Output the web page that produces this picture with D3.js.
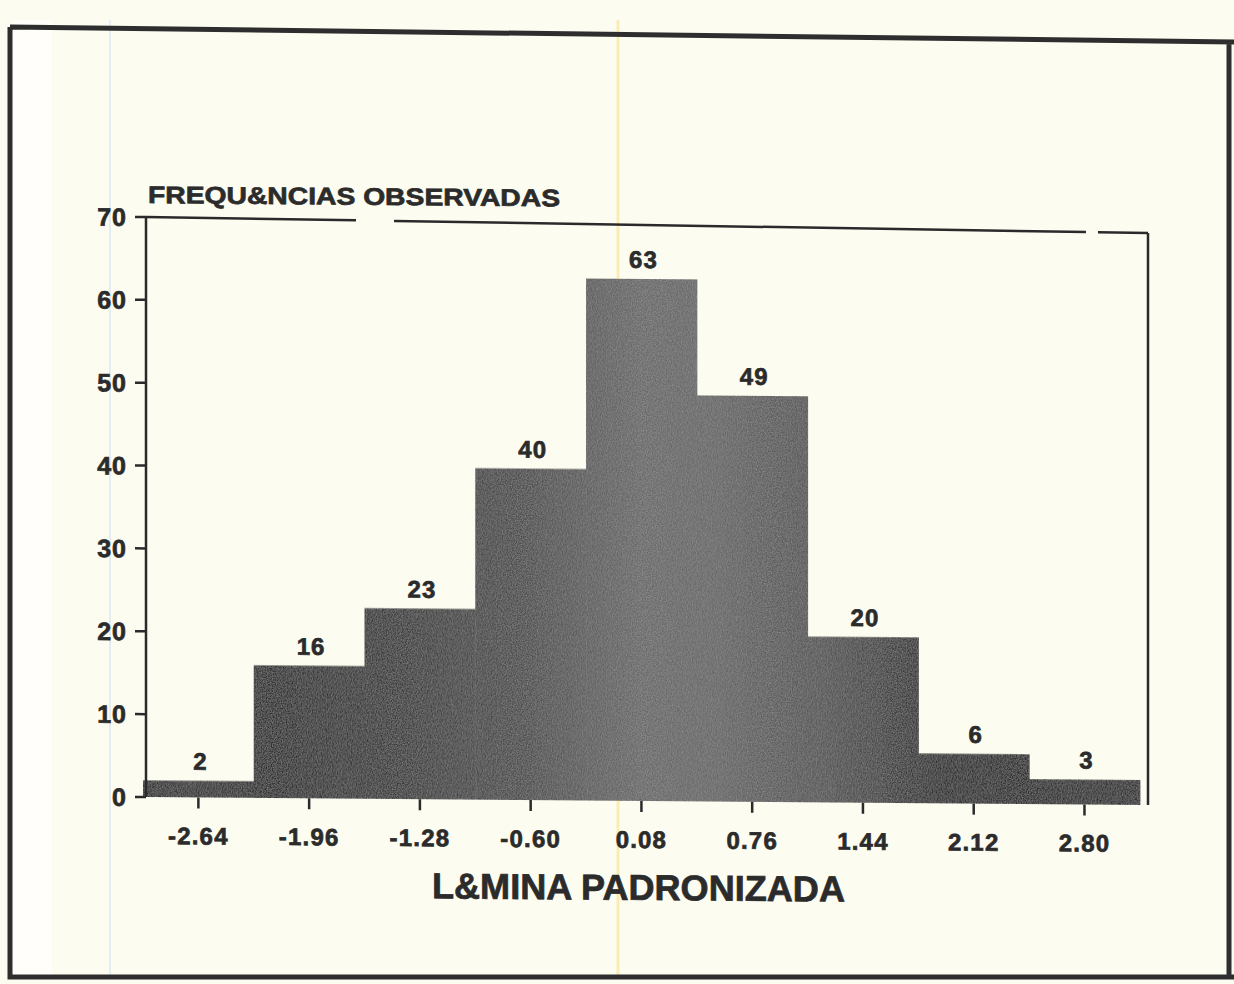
<!DOCTYPE html>
<html>
<head>
  <meta charset="UTF-8">
  <style>
    body {
      margin: 0;
      padding: 0;
      background-color: #fdfcf1;
    }
    svg {
      display: block;
      background-color: #fdfcf1;
    }
    text {
      font-family: "Liberation Sans", Arial, sans-serif;
      font-weight: bold;
      fill: #2b2b2b;
      stroke: #2b2b2b;
      stroke-width: 0.7px;
    }
  </style>
</head>
<body>
  <svg></svg>
  <script src="https://d3js.org/d3.v7.min.js"></script>

  <script>
  // bin centres (standardised lamina), observed frequencies
  const binCenters = [-2.64, -1.96, -1.28, -0.60, 0.08, 0.76, 1.44, 2.12, 2.80];
  const frequencies = [2, 16, 23, 40, 63, 49, 20, 6, 3];
  const xTickLabels = ["-2.64", "-1.96", "-1.28", "-0.60", "0.08", "0.76", "1.44", "2.12", "2.80"];
  const yTicks = [0, 10, 20, 30, 40, 50, 60, 70];
  const binWidth = 0.68;

  let width = 1234, height = 984;

  let svg = d3.select("svg")
      .attr("width", width)
      .attr("height", height);

  // scan artefacts: paler strip at left, faint coloured lines
  svg.append("rect")
      .attr("x", 12).attr("y", 20).attr("width", 40).attr("height", 955)
      .attr("fill", "#ffffff").attr("opacity", 0.7);
  svg.append("line")
      .attr("x1", 110).attr("x2", 110).attr("y1", 20).attr("y2", 975)
      .attr("stroke", "#e3edf2").attr("stroke-width", 2);
  svg.append("line")
      .attr("x1", 618).attr("x2", 618).attr("y1", 20).attr("y2", 975)
      .attr("stroke", "#fbecb4").attr("stroke-width", 3);

  // outer frame (the page is slightly tilted)
  svg.append("path")
      .attr("d", "M10,27 L1234,42 M10,27 L10,977 L1234,977 M1229,42 L1229,977")
      .attr("fill", "none")
      .attr("stroke", "#2e2e2e")
      .attr("stroke-width", 5);

  const k = 0.008;  // small skew of the scanned plot
  const g = svg.append("g")
      .attr("transform", `translate(0, ${-146 * k}) skewY(${Math.atan(k) * 180 / Math.PI})`);

  const x = d3.scaleLinear().domain([-2.98, 3.19]).range([143, 1148]);
  const y = d3.scaleLinear().domain([0, 70]).range([797, 217]);

  const defs = svg.append("defs");
  const grad = defs.append("linearGradient")
      .attr("id", "barGrad")
      .attr("gradientUnits", "userSpaceOnUse")
      .attr("x1", x(-2.98)).attr("x2", x(3.14))
      .attr("y1", 0).attr("y2", 0);
  [[0, "#343434"], [0.15, "#333"], [0.25, "#3c3c3c"], [0.38, "#4e4e4e"], [0.5, "#6a6a6a"],
   [0.58, "#666"], [0.68, "#555"], [0.74, "#454545"], [0.8, "#2e2e2e"], [1, "#303030"]]
    .forEach(s => grad.append("stop").attr("offset", s[0]).attr("stop-color", s[1]));

  const noise = defs.append("filter").attr("id", "grain");
  noise.append("feTurbulence")
      .attr("type", "fractalNoise").attr("baseFrequency", 0.8).attr("numOctaves", 2).attr("result", "n");
  noise.append("feColorMatrix")
      .attr("in", "n").attr("type", "matrix")
      .attr("values", "0 0 0 0 0.6  0 0 0 0 0.6  0 0 0 0 0.6  0 0 0 0.5 -0.15")
      .attr("result", "ng");
  noise.append("feComposite").attr("in", "ng").attr("in2", "SourceGraphic").attr("operator", "in").attr("result", "nc");
  noise.append("feMerge").call(m => {
    m.append("feMergeNode").attr("in", "SourceGraphic");
    m.append("feMergeNode").attr("in", "nc");
  });

  // bars
  g.append("g")
      .attr("filter", "url(#grain)")
      .selectAll("rect")
      .data(frequencies)
      .enter()
      .append("rect")
      .attr("x", (d, i) => x(binCenters[i] - binWidth / 2))
      .attr("width", (d, i) => x(binCenters[i] + binWidth / 2) - x(binCenters[i] - binWidth / 2) + 0.5)
      .attr("y", d => y(d))
      .attr("height", d => y(0) - y(d))
      .attr("fill", "url(#barGrad)");

  // value labels
  g.append("g")
      .selectAll("text")
      .data(frequencies)
      .enter()
      .append("text")
      .attr("x", (d, i) => x(binCenters[i]) + 2)
      .attr("y", d => y(d) - 11)
      .attr("text-anchor", "middle")
      .attr("font-size", 24)
      .attr("letter-spacing", 1)
      .text(d => d);

  // y axis
  const axisX = 146;
  g.append("line")
      .attr("x1", axisX).attr("x2", axisX)
      .attr("y1", y(70)).attr("y2", y(0))
      .attr("stroke", "#2a2a2a").attr("stroke-width", 2.5);
  g.selectAll(".ytick")
      .data(yTicks)
      .enter()
      .append("line")
      .attr("class", "ytick")
      .attr("x1", axisX - 11).attr("x2", axisX)
      .attr("y1", d => y(d)).attr("y2", d => y(d))
      .attr("stroke", "#2a2a2a").attr("stroke-width", 2.5);
  g.selectAll(".ylab")
      .data(yTicks)
      .enter()
      .append("text")
      .attr("class", "ylab")
      .attr("x", 127)
      .attr("y", d => y(d) + 9)
      .attr("text-anchor", "end")
      .attr("font-size", 25)
      .attr("letter-spacing", 1)
      .text(d => d);

  // top and right sides of the plot box
  g.append("line")
      .attr("x1", axisX).attr("x2", x(3.19))
      .attr("y1", y(70)).attr("y2", y(70) + 8)
      .attr("stroke", "#2a2a2a").attr("stroke-width", 2.5)
      .attr("stroke-dasharray", "210 38 692 12 60");
  g.append("line")
      .attr("x1", x(3.19)).attr("x2", x(3.19))
      .attr("y1", y(70) + 8).attr("y2", y(0))
      .attr("stroke", "#2a2a2a").attr("stroke-width", 2.5);

  // x ticks and labels
  g.selectAll(".xtick")
      .data(binCenters)
      .enter()
      .append("line")
      .attr("class", "xtick")
      .attr("x1", d => x(d)).attr("x2", d => x(d))
      .attr("y1", y(0)).attr("y2", y(0) + 11)
      .attr("stroke", "#2a2a2a").attr("stroke-width", 2.5);
  g.selectAll(".xlab")
      .data(xTickLabels)
      .enter()
      .append("text")
      .attr("class", "xlab")
      .attr("x", (d, i) => x(binCenters[i]))
      .attr("y", y(0) + 47)
      .attr("text-anchor", "middle")
      .attr("font-size", 24)
      .attr("letter-spacing", 1.2)
      .text(d => d);

  // titles
  g.append("text")
      .attr("x", 148)
      .attr("y", 203)
      .attr("font-size", 24)
      .attr("textLength", 412)
      .attr("lengthAdjust", "spacingAndGlyphs")
      .text("FREQU&NCIAS OBSERVADAS");

  g.append("text")
      .attr("x", 432)
      .attr("y", 896)
      .attr("font-size", 36)
      .attr("textLength", 413)
      .attr("lengthAdjust", "spacingAndGlyphs")
      .text("L&MINA PADRONIZADA");
  </script>

</body>
</html>
